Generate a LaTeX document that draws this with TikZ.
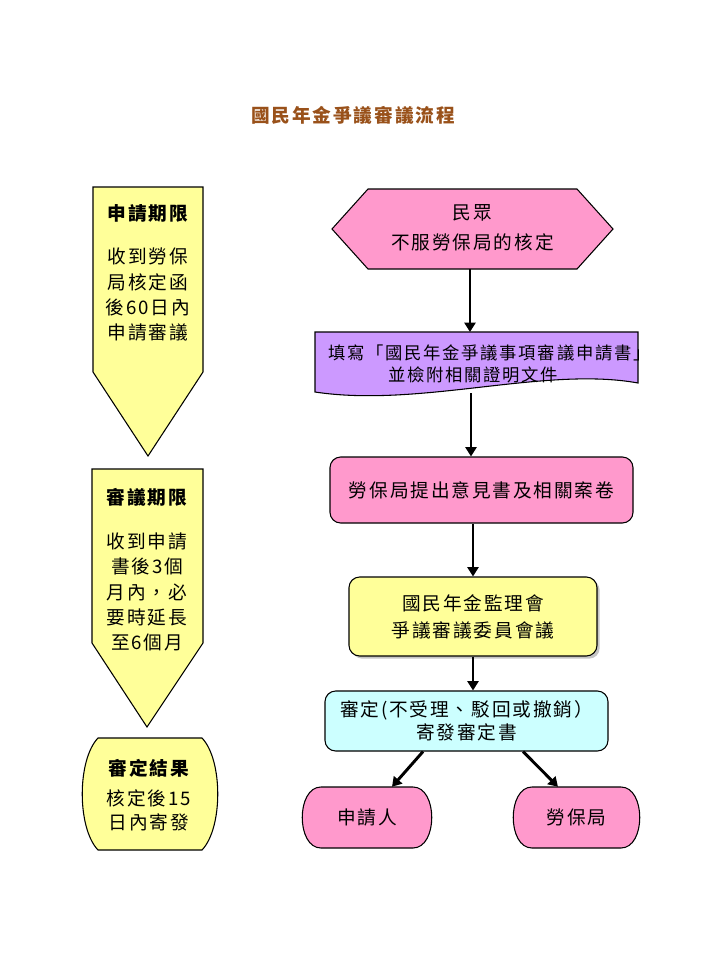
\documentclass[tikz,border=0pt]{standalone}
\usepackage{fontspec}
\setmainfont{Noto Sans CJK TC}[LetterSpace=10]
\usetikzlibrary{arrows.meta,shadows}

\definecolor{pinkbox}{HTML}{FF99CC}
\definecolor{violetbox}{HTML}{CC99FF}
\definecolor{yellowbox}{HTML}{FFFF99}
\definecolor{cyanbox}{HTML}{CCFFFF}
\definecolor{titlebrown}{HTML}{99511A}

\tikzset{
	txt/.style={align=center, inner sep=0pt, font=\fontsize{14}{#1}\selectfont},
	txt/.default=18.75,
	small/.style={font=\fontsize{13}{16.5}\selectfont},
	hd/.style={inner sep=0pt, font=\fontsize{14}{15}\selectfont\bfseries},
	shp/.style={draw=black, line width=0.8pt},
	link/.style={line width=2.2pt, -{Triangle[length=7pt,width=8.25pt]}},
}

\begin{document}
\begin{tikzpicture}[x=0.75pt, y=-0.75pt]

\useasboundingbox (0,0) rectangle (720,960);

\node[hd, text=titlebrown] (title) at (353,115) {國民年金爭議審議流程};

% left column
\filldraw[shp, fill=yellowbox] (93,187) -- (203,187) -- (203,372) -- (148,456) -- (93,372) -- cycle;
\node[hd] (limA) at (148,213) {申請期限};
\node[txt=19] (limAtxt) at (148,295) {收到勞保\\局核定函\\後60日內\\申請審議};

\filldraw[shp, fill=yellowbox] (92,469) -- (203,469) -- (203,643) -- (147,727) -- (92,643) -- cycle;
\node[hd] (limB) at (147,497) {審議期限};
\node[txt=19] (limBtxt) at (147,592) {收到申請\\書後3個\\月內，必\\要時延長\\至6個月};

\filldraw[shp, fill=yellowbox] (98,738) -- (202,738) .. controls (223,760) and (223,828) .. (202,850)
	-- (98,850) .. controls (77,828) and (77,760) .. (98,738) -- cycle;
\node[hd] (res) at (149,768) {審定結果};
\node[txt=17.5] (restxt) at (149,810.5) {核定後15\\日內寄發};

% right column
\filldraw[shp, fill=pinkbox] (332,229) -- (368,189) -- (577,189) -- (613,229) -- (577,269) -- (368,269) -- cycle;
\node[txt=22.5] (mz) at (472.5,228) {民眾\\不服勞保局的核定};
\coordinate (mzBot) at (470,269);

\filldraw[shp, fill=violetbox] (315,332) -- (638,332) -- (638,383) .. controls (545,366) and (420,408) .. (315,392) -- cycle;
\begin{scope}
	\clip (315,332) -- (638,332) -- (638,383) .. controls (545,366) and (420,408) .. (315,392) -- cycle;
	\node[txt, small] (fillA) at (499,353) {填寫「國民年金爭議事項審議申請書」，};
\end{scope}
\node[txt, small] (fillB) at (473,375) {並檢附相關證明文件};
\coordinate (applyTop) at (470,332);
\coordinate (applyBot) at (471,393);

\node[shp, fill=pinkbox, rounded corners=8pt, minimum width=227.25pt, minimum height=49.5pt, txt] (blj) at (481.5,490) {勞保局提出意見書及相關案卷};

\node[shp, fill=yellowbox, rounded corners=8pt, minimum width=186pt, minimum height=59.25pt, txt=20.25,
	drop shadow={shadow xshift=2pt, shadow yshift=-2pt, fill=black!45}] (board) at (473,616.5) {國民年金監理會\\爭議審議委員會議};

\node[shp, fill=cyanbox, rounded corners=8pt, minimum width=212.25pt, minimum height=45pt, txt=17.25] (decide) at (466.5,721) {審定(不受理、駁回或撤銷）\\寄發審定書};

\filldraw[shp, fill=pinkbox] (321,787) -- (413,787) .. controls (438,787) and (438,848) .. (413,848)
	-- (321,848) .. controls (296,848) and (296,787) .. (321,787) -- cycle;
\node[txt, minimum width=97.5pt, minimum height=45.75pt] (appl) at (367,817.5) {申請人};

\filldraw[shp, fill=pinkbox] (532,787) -- (621,787) .. controls (646,787) and (646,848) .. (621,848)
	-- (532,848) .. controls (507,848) and (507,787) .. (532,787) -- cycle;
\node[txt, minimum width=95pt, minimum height=45.75pt] (bli) at (576.5,817.5) {勞保局};

\draw[link] (mzBot) -- (applyTop);
\draw[link] (applyBot) -- (applyBot |- blj.north);
\draw[link] (blj.south -| board.north) -- (board.north);
\draw[link] (board.south) -- (board.south |- decide.north);
\draw[link] ([xshift=-32.6pt]decide.south) -- ([xshift=18.75pt]appl.north);
\draw[link] ([xshift=42.4pt]decide.south) -- ([xshift=-13.9pt]bli.north);

\end{tikzpicture}
\end{document}
